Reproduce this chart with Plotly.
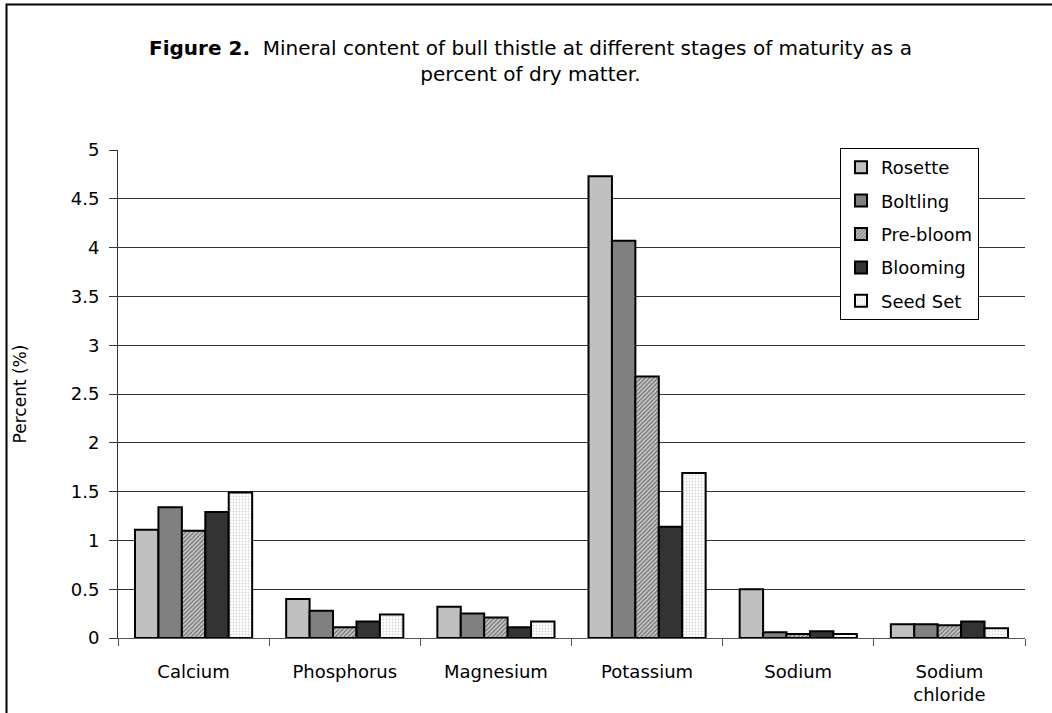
import plotly.graph_objects as go

categories = ["Calcium", "Phosphorus", "Magnesium", "Potassium", "Sodium", "Sodium<br>chloride"]
stages = ["Rosette", "Boltling", "Pre-bloom", "Blooming", "Seed Set"]
rosette = [1.11, 0.40, 0.32, 4.73, 0.50, 0.14]
boltling = [1.34, 0.28, 0.25, 4.07, 0.06, 0.14]
prebloom = [1.10, 0.11, 0.21, 2.68, 0.04, 0.13]
blooming = [1.29, 0.17, 0.11, 1.14, 0.07, 0.17]
seedset = [1.49, 0.24, 0.17, 1.69, 0.04, 0.10]
y_ticks = [0, 0.5, 1, 1.5, 2, 2.5, 3, 3.5, 4, 4.5, 5]

series = [rosette, boltling, prebloom, blooming, seedset]
styles = [
    dict(color="#c0c0c0"),
    dict(color="#808080"),
    dict(color="#c0c0c0", pattern=dict(shape="/", fgcolor="#111111", bgcolor="#c8c8c8", size=3, solidity=0.4)),
    dict(color="#333333"),
    dict(color="white", pattern=dict(shape=".", fgcolor="#b0b0b0", bgcolor="white", size=3, solidity=0.3)),
]

FONT = "DejaVu Sans, sans-serif"
W, H = 1052, 713
L, R, T, B = 118, 27, 150, 75
pw, ph = W - L - R, H - T - B

fig = go.Figure()
for name, vals, st in zip(stages, series, styles):
    marker = dict(st)
    marker["line"] = dict(color="black", width=2)
    fig.add_trace(go.Bar(x=categories, y=vals, name=name, marker=marker, legendgroup=name))

def px_x(X):
    return (X - L) / pw

def px_y(Y):
    return (H - B - Y) / ph

fig.update_layout(
    width=W, height=H,
    margin=dict(l=L, r=R, t=T, b=B, autoexpand=False),
    paper_bgcolor="white", plot_bgcolor="white",
    font=dict(family=FONT, size=18, color="black"),
    barmode="group", bargap=0.225, bargroupgap=0,
    showlegend=True,
    legend=dict(
        x=px_x(979), xanchor="right", y=px_y(148), yanchor="top",
        bordercolor="black", borderwidth=1, bgcolor="white",
        font=dict(family=FONT, size=18), tracegroupgap=7,
        traceorder="grouped",
    ),
    annotations=[dict(
        text="<b>Figure 2.</b>  Mineral content of bull thistle at different stages of maturity as a<br>percent of dry matter.",
        xref="paper", yref="paper", x=px_x(530), y=px_y(34), xanchor="center", yanchor="top",
        showarrow=False, font=dict(family=FONT, size=20), align="center",
    )],
    shapes=[dict(
        type="rect", xref="paper", yref="paper",
        x0=px_x(6.5), x1=px_x(1060), y0=px_y(720), y1=px_y(4.5),
        line=dict(color="black", width=2), layer="below",
    )],
)
fig.update_yaxes(
    range=[0, 5], tickvals=y_ticks, ticktext=[f"{v:g}" for v in y_ticks],
    showgrid=True, gridcolor="#333333", gridwidth=1,
    showline=True, linecolor="#333333", linewidth=1,
    ticks="outside", ticklen=8, tickcolor="#333333",
    ticklabelstandoff=6, automargin=False,
    tickfont=dict(family=FONT, size=18),
    title=dict(text="Percent (%)", font=dict(family=FONT, size=17), standoff=39),
    zeroline=False,
)
fig.update_xaxes(
    showline=True, linecolor="#555555", linewidth=1,
    ticks="outside", ticklen=7, tickcolor="#555555", tickson="boundaries",
    ticklabelstandoff=17, automargin=False,
    tickfont=dict(family=FONT, size=18),
)

fig.write_html(
    "out.html",
    config={"displayModeBar": False},
    post_script="document.body.style.margin='0';document.body.style.padding='0';",
)
